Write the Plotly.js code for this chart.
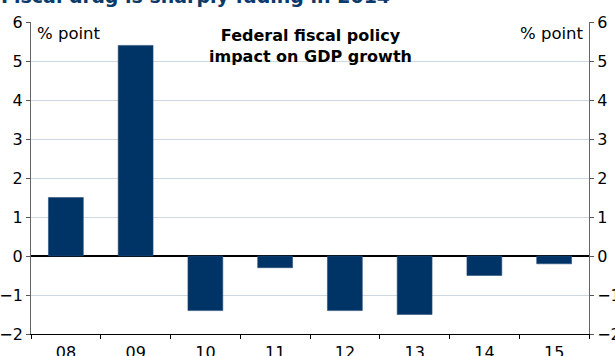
<!DOCTYPE html>
<html>
<head>
<meta charset="utf-8">
<script src="https://cdn.plot.ly/plotly-3.0.1.min.js"></script>
<style>html,body{margin:0;padding:0;background:#fff;}#chart{width:615px;height:356px;}</style>
</head>
<body>
<div id="chart"></div>
<script>
const categories = ["08", "09", "10", "11", "12", "13", "14", "15"];
const impact = [1.5, 5.4, -1.4, -0.3, -1.4, -1.5, -0.5, -0.2];
const yTicks = [-2, -1, 0, 1, 2, 3, 4, 5, 6];

const font = "DejaVu Sans, Verdana, sans-serif";
const navy = "#003366";

const traces = [
  {
    type: "bar", x: categories, y: impact, yaxis: "y",
    marker: {color: navy, line: {color: "#2a4f78", width: 0.6}},
    hoverinfo: "x+y"
  },
  {
    type: "bar", x: categories, y: impact, yaxis: "y2",
    marker: {color: "rgba(0,0,0,0)"}, hoverinfo: "skip", showlegend: false
  }
];

const yCommon = {
  range: [-2, 6], tickvals: yTicks, ticks: "outside", ticklen: 4, tickcolor: "#555",
  showline: true, linecolor: "#666", linewidth: 1,
  tickfont: {family: font, size: 16, color: "#000"}, fixedrange: true
};

const layout = {
  width: 615, height: 356,
  margin: {l: 31, r: 26, t: 22, b: 22},
  paper_bgcolor: "#fff", plot_bgcolor: "#fff",
  showlegend: false, bargap: 0.5, barmode: "overlay",
  xaxis: {
    type: "category", tickson: "boundaries", ticks: "outside", ticklen: 4, tickcolor: "#000",
    showline: true, linecolor: "#000", linewidth: 1, showgrid: false,
    tickfont: {family: font, size: 16, color: "#000"}, ticklabelstandoff: 4
  },
  yaxis: Object.assign({}, yCommon, {
    side: "left", showgrid: true, gridcolor: "#cdd8e3", gridwidth: 1,
    zeroline: true, zerolinecolor: "#000", zerolinewidth: 1.5
  }),
  yaxis2: Object.assign({}, yCommon, {
    side: "right", overlaying: "y", showgrid: false, zeroline: false
  }),
  annotations: [
    {text: "Fiscal drag is sharply fading in 2014", xref: "paper", yref: "paper",
     x: -0.058, y: 1.0, yshift: 13, xanchor: "left", yanchor: "bottom", showarrow: false,
     font: {family: font, size: 19, color: "#0b3a6a", weight: "bold"}},
    {text: "% point", xref: "paper", yref: "paper", x: 0.007, y: 0.95, yshift: 4,
     xanchor: "left", yanchor: "middle", showarrow: false,
     font: {family: font, size: 16.5, color: "#000"}},
    {text: "% point", xref: "paper", yref: "paper", x: 0.995, y: 0.95, yshift: 4,
     xanchor: "right", yanchor: "middle", showarrow: false,
     font: {family: font, size: 16.5, color: "#000"}},
    {text: "<b>Federal fiscal policy<br>impact on GDP growth</b>", xref: "paper", yref: "paper",
     x: 0.5, y: 1.0, yshift: -2, xanchor: "center", yanchor: "top", showarrow: false,
     font: {family: font, size: 16, color: "#000"}}
  ]
};

Plotly.newPlot("chart", traces, layout, {displayModeBar: false, staticPlot: true});
</script>
</body>
</html>
